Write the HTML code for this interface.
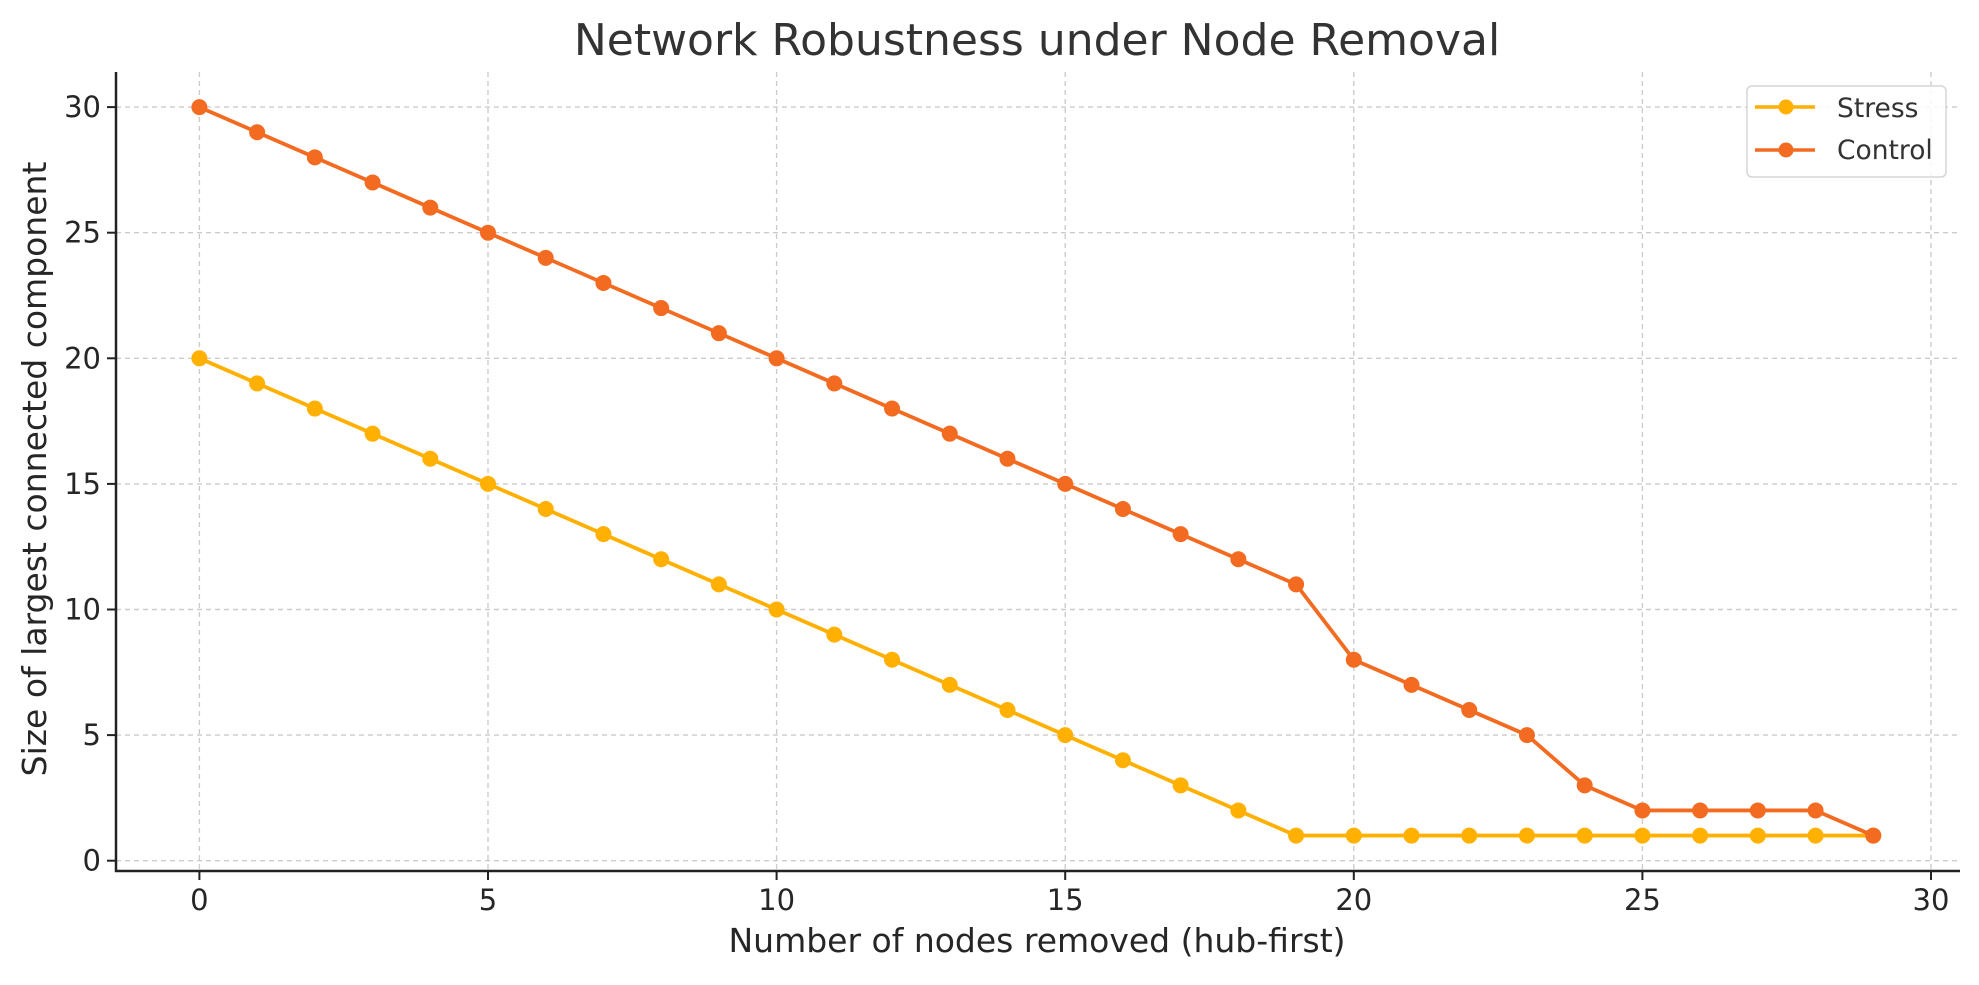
<!DOCTYPE html>
<html><head><meta charset="utf-8"><style>
html,body{margin:0;padding:0;background:#fff;}
svg text{font-family:"DejaVu Sans","Liberation Sans",sans-serif;fill:#262626;}
</style></head><body>
<svg id="chart" width="1979" height="980" viewBox="0 0 1979 980" xmlns="http://www.w3.org/2000/svg">
<text x="1037" y="55" font-size="44" text-anchor="middle" style="fill:#333">Network Robustness under Node Removal</text>
<g id="grid"></g>
<g id="series"></g>
<line x1="116" y1="72" x2="116" y2="872" stroke="#222" stroke-width="2.5"/>
<line x1="115" y1="871" x2="1960" y2="871" stroke="#222" stroke-width="2.5"/>
<g id="ticks"></g>
<text x="1037" y="952" font-size="33" text-anchor="middle">Number of nodes removed (hub-first)</text>
<text transform="translate(46,469) rotate(-90)" font-size="33" text-anchor="middle">Size of largest connected component</text>
<g>
<rect x="1747" y="86" width="199" height="91" rx="5" fill="#fff" fill-opacity="0.85" stroke="#d6d6d6" stroke-width="1.5"/>
<g>
<line x1="1755" y1="107" x2="1815" y2="107" stroke="#FFB000" stroke-width="3.5"/>
<circle cx="1786" cy="107" r="7.5" fill="#FFB000"/>
<text x="1837" y="117" font-size="26.5" style="fill:#333">Stress</text></g>
<g>
<line x1="1755" y1="150" x2="1815" y2="150" stroke="#F26B21" stroke-width="3.5"/>
<circle cx="1786" cy="150" r="7.5" fill="#F26B21"/>
<text x="1837" y="159" font-size="26.5" style="fill:#333">Control</text></g>
</g>
</svg>
<script>
const xValues = [0,1,2,3,4,5,6,7,8,9,10,11,12,13,14,15,16,17,18,19,20,21,22,23,24,25,26,27,28,29];
const stressValues = [20,19,18,17,16,15,14,13,12,11,10,9,8,7,6,5,4,3,2,1,1,1,1,1,1,1,1,1,1,1];
const controlValues = [30,29,28,27,26,25,24,23,22,21,20,19,18,17,16,15,14,13,12,11,8,7,6,5,3,2,2,2,2,1];
const xTicks = [0,5,10,15,20,25,30];
const yTicks = [0,5,10,15,20,25,30];
const NS='http://www.w3.org/2000/svg';
function xs(v){return 199.4+v*57.72;}
function ys(v){return 860.7-v*25.12;}
const grid=document.getElementById('grid'), ticks=document.getElementById('ticks'), ser=document.getElementById('series');
function mk(tag,attrs,parent){const e=document.createElementNS(NS,tag);for(const k in attrs)e.setAttribute(k,attrs[k]);parent.appendChild(e);return e;}
xTicks.forEach(t=>{
  const g=mk('line',{x1:xs(t),x2:xs(t),y1:72,y2:871,stroke:'#cccccc','stroke-width':1.4,'stroke-dasharray':'5,4'},grid);
  
  
  const tk=mk('line',{x1:xs(t),x2:xs(t),y1:871,y2:880,stroke:'#222','stroke-width':2},ticks);
  
  
  const tx=mk('text',{x:xs(t),y:910,'font-size':29,'text-anchor':'middle'},ticks);
  tx.textContent=t;
  
  
});
yTicks.forEach(t=>{
  const g=mk('line',{x1:116,x2:1960,y1:ys(t),y2:ys(t),stroke:'#cccccc','stroke-width':1.4,'stroke-dasharray':'5,4'},grid);
  
  
  const tk=mk('line',{x1:107,x2:116,y1:ys(t),y2:ys(t),stroke:'#222','stroke-width':2},ticks);
  
  
  const tx=mk('text',{x:101,y:ys(t)+10,'font-size':29,'text-anchor':'end'},ticks);
  tx.textContent=t;
  
  
});
function drawSeries(vals,color,name){
  const pts=xValues.map((x,i)=>xs(x)+','+ys(vals[i])).join(' ');
  const pl=mk('polyline',{points:pts,fill:'none',stroke:color,'stroke-width':3.8,'stroke-linejoin':'round'},ser);
  
  
  xValues.forEach((x,i)=>{
    const c=mk('circle',{cx:xs(x),cy:ys(vals[i]),r:8,fill:color},ser);
    
    
  });
}
drawSeries(stressValues,'#FFB000','stress');
drawSeries(controlValues,'#F26B21','control');
</script>
</body></html>
